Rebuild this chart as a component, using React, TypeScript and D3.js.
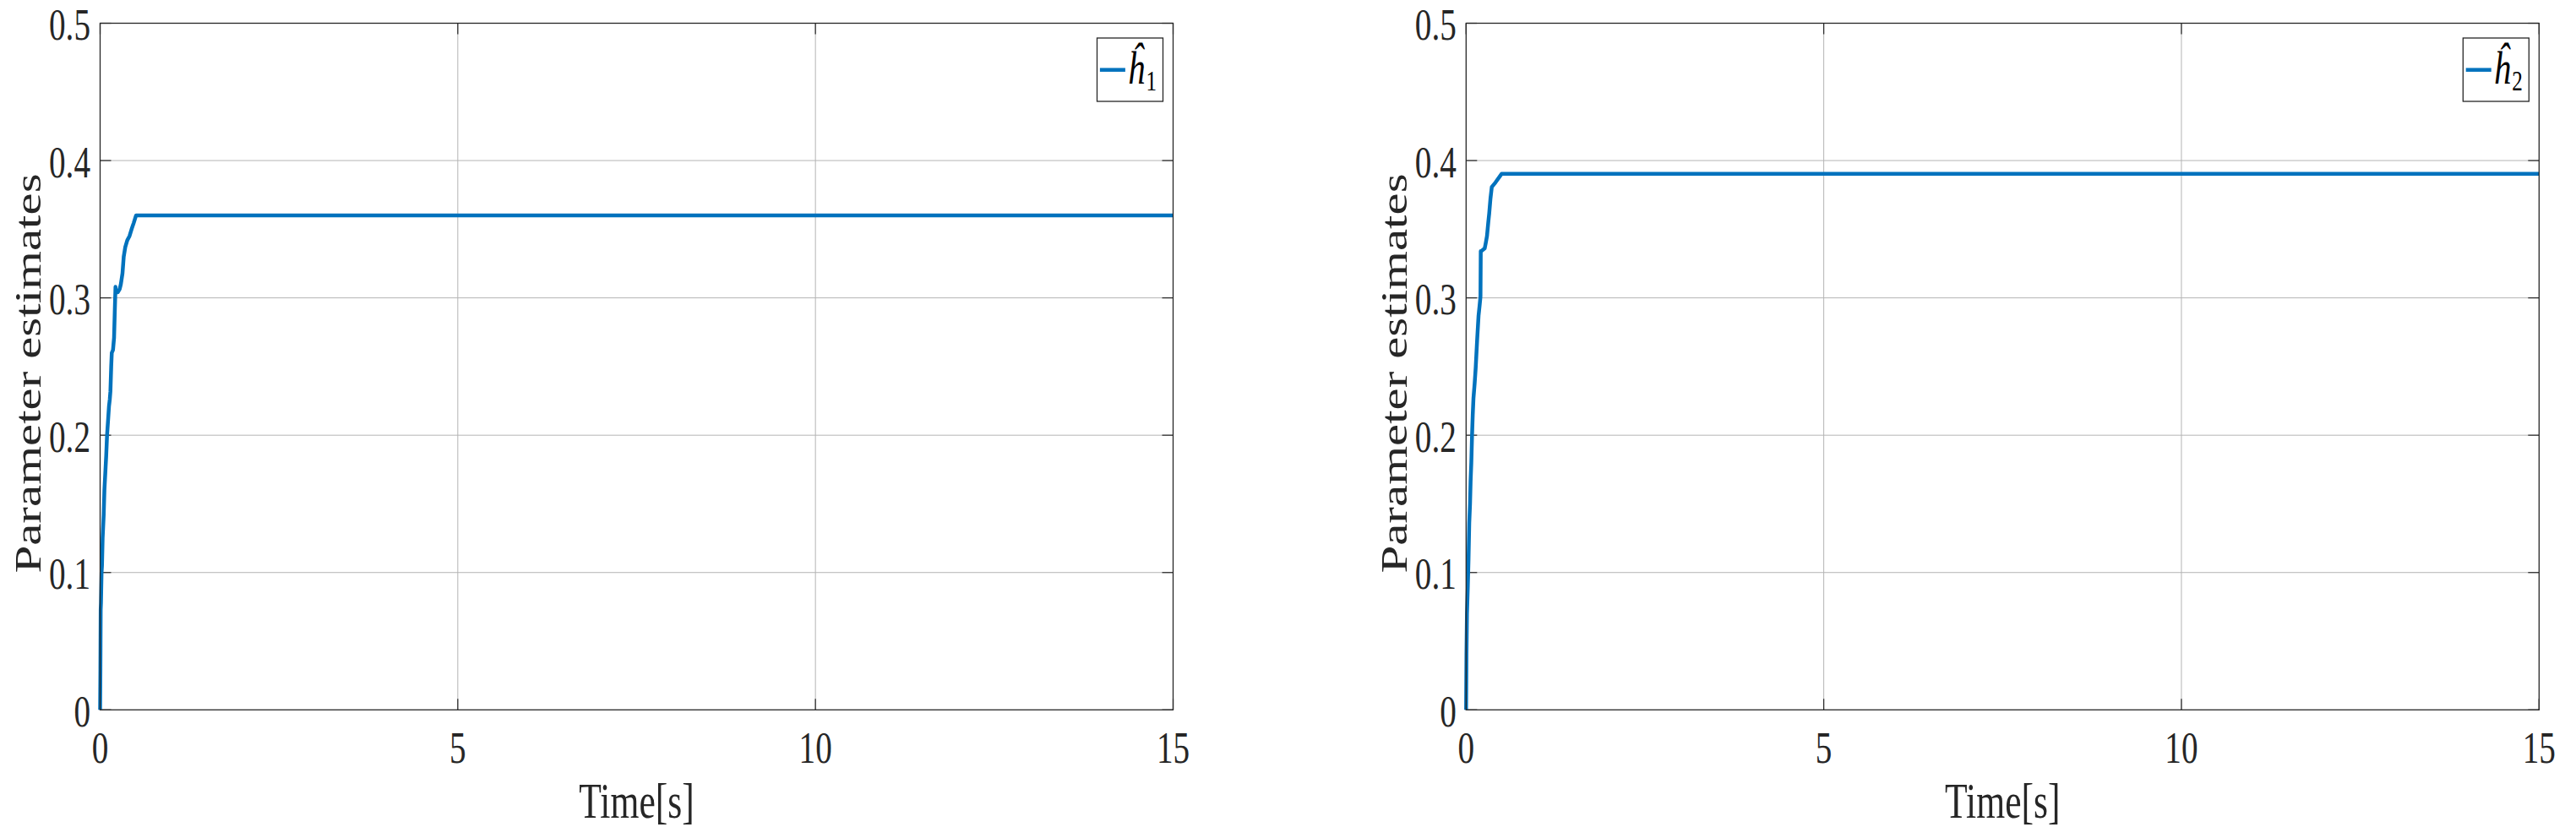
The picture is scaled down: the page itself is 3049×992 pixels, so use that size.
import React from "react";
import * as d3 from "d3";

const xTicks = [0, 5, 10, 15];
const yTicks = [0, 0.1, 0.2, 0.3, 0.4, 0.5];
const yTickLabels = ["0", "0.1", "0.2", "0.3", "0.4", "0.5"];
const xTickLabels = ["0", "5", "10", "15"];

const h1Time = [0, 0.004, 0.008, 0.012, 0.02, 0.026, 0.035, 0.05, 0.06, 0.077, 0.085, 0.097, 0.11, 0.124, 0.135, 0.144, 0.155, 0.163, 0.18, 0.195, 0.205, 0.215, 0.222, 0.246, 0.274, 0.29, 0.313, 0.33, 0.352, 0.38, 0.411, 0.44, 0.47, 0.502, 15];
const h1Value = [0, 0.03, 0.073, 0.078, 0.1, 0.105, 0.125, 0.142, 0.16, 0.177, 0.185, 0.2, 0.21, 0.221, 0.226, 0.232, 0.25, 0.26, 0.262, 0.271, 0.29, 0.308, 0.304, 0.304, 0.3065, 0.31, 0.318, 0.33, 0.337, 0.342, 0.345, 0.35, 0.3546, 0.36, 0.36];

const h2Time = [0, 0.005, 0.012, 0.024, 0.034, 0.044, 0.055, 0.063, 0.073, 0.083, 0.093, 0.103, 0.12, 0.134, 0.155, 0.174, 0.19, 0.201, 0.205, 0.213, 0.26, 0.275, 0.292, 0.31, 0.323, 0.34, 0.359, 0.41, 0.496, 15];
const h2Value = [0, 0.04, 0.07, 0.09, 0.11, 0.136, 0.15, 0.1665, 0.18, 0.1995, 0.215, 0.227, 0.238, 0.249, 0.27, 0.287, 0.295, 0.301, 0.334, 0.334, 0.336, 0.34, 0.345, 0.355, 0.3615, 0.372, 0.3807, 0.384, 0.3903, 0.3903];

const W = 3049;
const H = 992;
const TOP = 27.5;
const BOTTOM = 840.3;
const PLOT_W = 1270;
const TEXT = "#262626";
const GRID = "#b4b4b4";
const LINE = "#0072BD";
const FONT = "'Liberation Serif', 'Times New Roman', serif";
const SX = 0.74;

type PanelProps = { left: number; times: number[]; values: number[]; sub: string };

function Panel({ left, times, values, sub }: PanelProps) {
  const x = d3.scaleLinear().domain([0, 15]).range([left, left + PLOT_W]);
  const y = d3.scaleLinear().domain([0, 0.5]).range([BOTTOM, TOP]);
  const pts: [number, number][] = times.map((t, i) => [t, values[i]]);
  const line = d3
    .line<[number, number]>()
    .x((d) => x(d[0]))
    .y((d) => y(d[1]));
  const right = left + PLOT_W;
  const tickLen = 13;
  const legL = right - 90;
  const legT = 45;
  return (
    <g>
      {xTicks.slice(1, -1).map((t) => (
        <line key={"gx" + t} x1={x(t)} x2={x(t)} y1={TOP} y2={BOTTOM} stroke={GRID} strokeWidth={1} />
      ))}
      {yTicks.slice(1, -1).map((t) => (
        <line key={"gy" + t} x1={left} x2={right} y1={y(t)} y2={y(t)} stroke={GRID} strokeWidth={1} />
      ))}
      {xTicks.map((t) => (
        <g key={"tx" + t}>
          <line x1={x(t)} x2={x(t)} y1={BOTTOM} y2={BOTTOM - tickLen} stroke={TEXT} strokeWidth={1.2} />
          <line x1={x(t)} x2={x(t)} y1={TOP} y2={TOP + tickLen} stroke={TEXT} strokeWidth={1.2} />
        </g>
      ))}
      {yTicks.map((t) => (
        <g key={"ty" + t}>
          <line x1={left} x2={left + tickLen} y1={y(t)} y2={y(t)} stroke={TEXT} strokeWidth={1.2} />
          <line x1={right} x2={right - tickLen} y1={y(t)} y2={y(t)} stroke={TEXT} strokeWidth={1.2} />
        </g>
      ))}
      <path d={line(pts) || ""} fill="none" stroke={LINE} strokeWidth={4.5} strokeLinejoin="round" />
      <rect x={left} y={TOP} width={PLOT_W} height={BOTTOM - TOP} fill="none" stroke={TEXT} strokeWidth={1.3} />
      {xTicks.map((t, i) => (
        <text
          key={"lx" + t}
          transform={`translate(${x(t)},${BOTTOM + 63}) scale(${SX},1)`}
          textAnchor="middle"
          fontFamily={FONT}
          fontSize={53}
          fill={TEXT}
        >
          {xTickLabels[i]}
        </text>
      ))}
      {yTicks.map((t, i) => (
        <text
          key={"ly" + t}
          transform={`translate(${left - 11.5},${y(t) + 19.5}) scale(${SX},1)`}
          textAnchor="end"
          fontFamily={FONT}
          fontSize={53}
          fill={TEXT}
        >
          {yTickLabels[i]}
        </text>
      ))}
      <text
        transform={`translate(${left + PLOT_W / 2},${BOTTOM + 128}) scale(${SX},1)`}
        textAnchor="middle"
        fontFamily={FONT}
        fontSize={59}
        fill={TEXT}
      >
        Time[s]
      </text>
      <text
        transform={`translate(${left - 70.5},${442}) scale(${SX},1) rotate(-90)`}
        textAnchor="middle"
        fontFamily={FONT}
        fontSize={59}
        fill={TEXT}
      >
        Parameter estimates
      </text>
      <rect x={legL} y={legT} width={78} height={75} fill="#ffffff" stroke={TEXT} strokeWidth={1.3} />
      <line x1={legL + 3.4} x2={legL + 33.4} y1={legT + 37.7} y2={legT + 37.7} stroke={LINE} strokeWidth={4.5} />
      <text
        transform={`translate(${legL + 36},${legT + 54.3}) scale(${SX},1)`}
        fontFamily={FONT}
        fill="#000"
      >
        <tspan fontStyle="italic" fontSize={55}>ĥ</tspan>
        <tspan x={29.7} y={7.4} fontSize={34}>{sub}</tspan>
      </text>
    </g>
  );
}

export default function App() {
  return (
    <svg
      width={W}
      height={H}
      viewBox={`0 0 ${W} ${H}`}
      style={{ position: "absolute", left: 0, top: 0, background: "#fff" }}
    >
      <rect x={0} y={0} width={W} height={H} fill="#fff" />
      <Panel left={118.5} times={h1Time} values={h1Value} sub="1" />
      <Panel left={1735.3} times={h2Time} values={h2Value} sub="2" />
    </svg>
  );
}
